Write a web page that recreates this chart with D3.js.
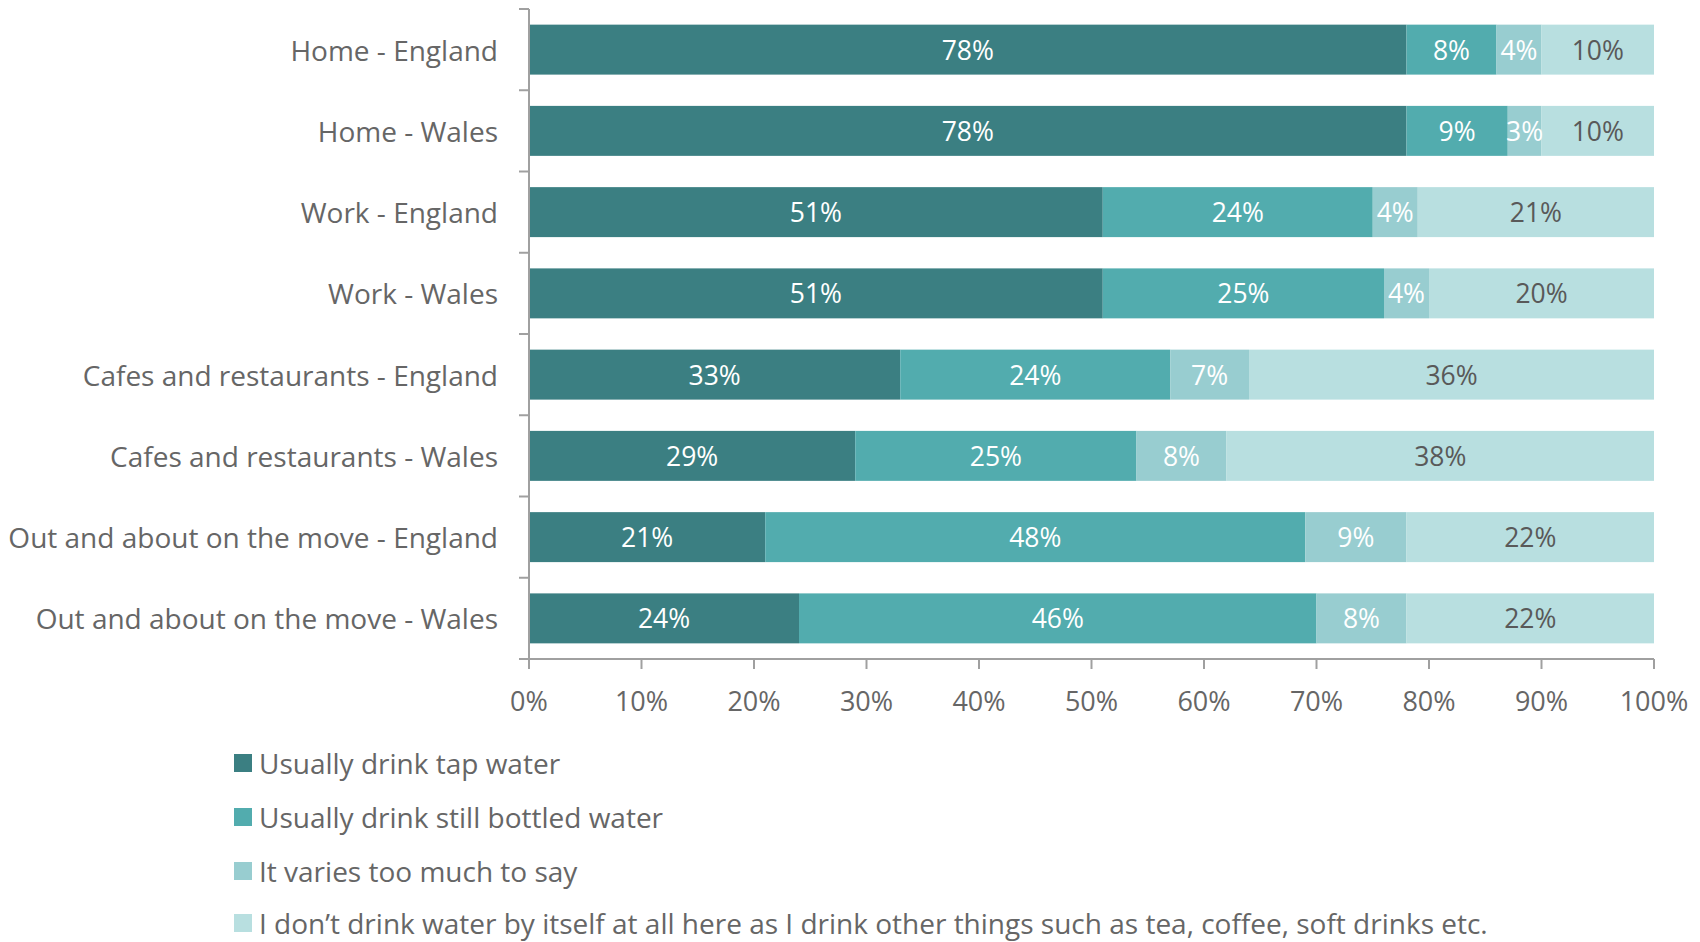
<!DOCTYPE html>
<html>
<head>
<meta charset="utf-8">
<script src="https://cdn.jsdelivr.net/npm/d3@7"></script>
<style>
  html, body { margin: 0; padding: 0; background: #ffffff; }
  svg { display: block; }
  text { font-family: "Open Sans", Lato, sans-serif; }
</style>
</head>
<body>
<svg id="chart" width="1700" height="942"></svg>
<script>
// Where people usually get their drinking water, by setting and nation (%)
const categories = [
  "Home - England",
  "Home - Wales",
  "Work - England",
  "Work - Wales",
  "Cafes and restaurants - England",
  "Cafes and restaurants - Wales",
  "Out and about on the move - England",
  "Out and about on the move - Wales"
];
const seriesNames = [
  "Usually drink tap water",
  "Usually drink still bottled water",
  "It varies too much to say",
  "I don\u2019t drink water by itself at all here as I drink other things such as tea, coffee, soft drinks etc."
];
const tapWater      = [78, 78, 51, 51, 33, 29, 21, 24];
const bottledWater  = [8, 9, 24, 25, 24, 25, 48, 46];
const variesTooMuch = [4, 3, 4, 4, 7, 8, 9, 8];
const otherDrinks   = [10, 10, 21, 20, 36, 38, 22, 22];
const xTicks = [0, 10, 20, 30, 40, 50, 60, 70, 80, 90, 100];

const colors = ["#3b7f82", "#52acae", "#98cdd0", "#b8dfe0"];
const labelColors = ["#ffffff", "#ffffff", "#ffffff", "#595959"];

const svg = d3.select("#chart");
const plotLeft = 529, plotRight = 1654, plotTop = 9, plotBottom = 659;

const rows = categories.map((c, i) => ({
  category: c,
  s0: tapWater[i], s1: bottledWater[i], s2: variesTooMuch[i], s3: otherDrinks[i]
}));
const layers = d3.stack().keys(["s0", "s1", "s2", "s3"])(rows);

const x = d3.scaleLinear().domain([0, 100]).range([plotLeft, plotRight]);
const y = d3.scaleBand().domain(categories).range([plotTop, plotBottom])
  .paddingInner(0.385).paddingOuter(0.1925);

// Segments
const g = svg.append("g");
layers.forEach((layer, k) => {
  g.append("g").selectAll("rect").data(layer).join("rect")
    .attr("x", d => x(d[0]))
    .attr("y", d => y(d.data.category))
    .attr("width", d => x(d[1]) - x(d[0]))
    .attr("height", y.bandwidth())
    .attr("fill", colors[k]);
});

// Value labels
layers.forEach((layer, k) => {
  g.append("g").selectAll("text").data(layer).join("text")
    .attr("x", d => (x(d[0]) + x(d[1])) / 2)
    .attr("y", d => y(d.data.category) + y.bandwidth() / 2)
    .attr("text-anchor", "middle")
    .attr("dominant-baseline", "central")
    .attr("font-size", 26.5)
    .attr("fill", labelColors[k])
    .text(d => (d[1] - d[0]) + "%");
});

// Axes
const axisColor = "#a0a0a0";
const yAxis = svg.append("g");
yAxis.append("line")
  .attr("x1", plotLeft).attr("x2", plotLeft).attr("y1", plotTop).attr("y2", plotBottom)
  .attr("stroke", axisColor).attr("stroke-width", 2);
const boundaries = categories.map(c => y(c) - y.step() * y.paddingInner() / 2);
boundaries[0] = plotTop;
boundaries.push(plotBottom);
yAxis.selectAll("line.tick").data(boundaries).join("line")
  .attr("class", "tick")
  .attr("x1", plotLeft - 10).attr("x2", plotLeft)
  .attr("y1", d => d).attr("y2", d => d)
  .attr("stroke", axisColor).attr("stroke-width", 2);
yAxis.selectAll("text").data(categories).join("text")
  .attr("x", plotLeft - 31)
  .attr("y", d => y(d) + y.bandwidth() / 2)
  .attr("text-anchor", "end")
  .attr("dominant-baseline", "central")
  .attr("font-size", 28)
  .attr("fill", "#666666")
  .text(d => d);

const xAxis = svg.append("g");
xAxis.append("line")
  .attr("x1", plotLeft - 10).attr("x2", plotRight).attr("y1", plotBottom).attr("y2", plotBottom)
  .attr("stroke", axisColor).attr("stroke-width", 2);
xAxis.selectAll("line.tick").data(xTicks).join("line")
  .attr("class", "tick")
  .attr("x1", d => x(d)).attr("x2", d => x(d))
  .attr("y1", plotBottom).attr("y2", plotBottom + 10)
  .attr("stroke", axisColor).attr("stroke-width", 2);
xAxis.selectAll("text").data(xTicks).join("text")
  .attr("x", d => x(d))
  .attr("y", 700)
  .attr("text-anchor", "middle")
  .attr("dominant-baseline", "central")
  .attr("font-size", 27)
  .attr("fill", "#666666")
  .text(d => d + "%");

// Legend
const legendY = [763, 817, 871, 923];
const legend = svg.append("g");
seriesNames.forEach((name, k) => {
  legend.append("rect")
    .attr("x", 234).attr("y", legendY[k] - 9)
    .attr("width", 18).attr("height", 18)
    .attr("fill", colors[k]);
  legend.append("text")
    .attr("x", 259).attr("y", legendY[k])
    .attr("dominant-baseline", "central")
    .attr("font-size", 28)
    .attr("fill", "#666666")
    .text(name);
});
</script>
</body>
</html>
